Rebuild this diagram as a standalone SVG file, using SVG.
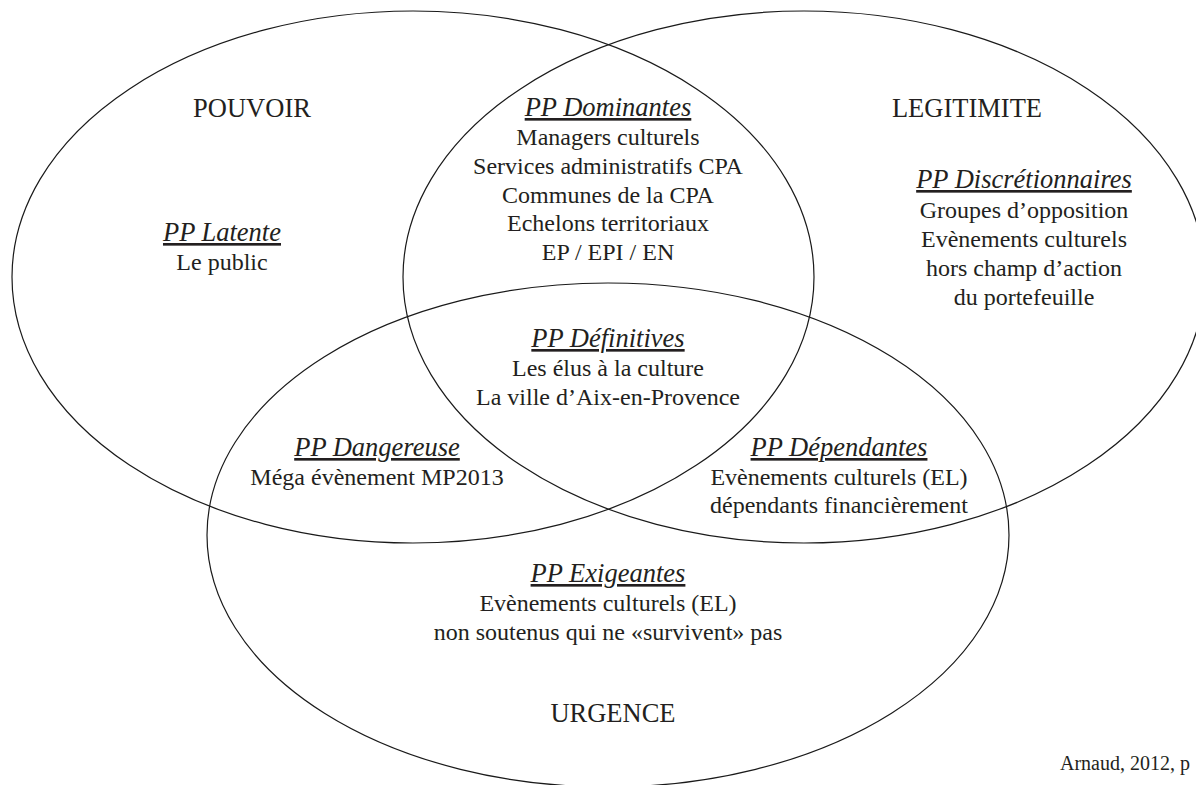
<svg xmlns="http://www.w3.org/2000/svg" width="1196" height="785" viewBox="0 0 1196 785">
<style>
.c{fill:none;stroke:#1a1a1a;stroke-width:1.2}
text{font-family:"Liberation Serif","Times New Roman",serif;fill:#231f20;text-anchor:middle}
.t{font-style:italic;font-size:26.5px;text-decoration:underline}
.b{font-size:24px}
.h{font-size:26.5px}
.s{font-size:20px;text-anchor:start}
</style>
<rect width="1196" height="785" fill="#fff"/>
<g id="circles">
<ellipse id="pouvoir-set" class="c" cx="413" cy="277" rx="401" ry="266"/>
<ellipse id="legitimite-set" class="c" cx="804" cy="277" rx="401" ry="266"/>
<ellipse id="urgence-set" class="c" cx="608" cy="535" rx="401" ry="252"/>
</g>
<g id="pouvoir"><text class="h" x="252" y="117">POUVOIR</text></g>
<g id="legitimite"><text class="h" x="967" y="117">LEGITIMITE</text></g>
<g id="urgence"><text class="h" x="613" y="722">URGENCE</text></g>
<g id="latente">
<text class="t" x="222" y="241">PP Latente</text>
<text class="b" x="222" y="270">Le public</text>
</g>
<g id="dominantes">
<text class="t" x="608" y="116">PP Dominantes</text>
<text class="b" x="608" y="145">Managers culturels</text>
<text class="b" x="608" y="174">Services administratifs CPA</text>
<text class="b" x="608" y="203">Communes de la CPA</text>
<text class="b" x="608" y="231">Echelons territoriaux</text>
<text class="b" x="608" y="260">EP / EPI / EN</text>
</g>
<g id="discretionnaires">
<text class="t" x="1024" y="188">PP Discrétionnaires</text>
<text class="b" x="1024" y="218">Groupes d’opposition</text>
<text class="b" x="1024" y="247">Evènements culturels</text>
<text class="b" x="1024" y="276">hors champ d’action</text>
<text class="b" x="1024" y="305">du portefeuille</text>
</g>
<g id="definitives">
<text class="t" x="608" y="347">PP Définitives</text>
<text class="b" x="608" y="376">Les élus à la culture</text>
<text class="b" x="608" y="405">La ville d’Aix-en-Provence</text>
</g>
<g id="dangereuse">
<text class="t" x="377" y="456">PP Dangereuse</text>
<text class="b" x="377" y="485">Méga évènement MP2013</text>
</g>
<g id="dependantes">
<text class="t" x="839" y="456">PP Dépendantes</text>
<text class="b" x="839" y="485">Evènements culturels (EL)</text>
<text class="b" x="839" y="513">dépendants financièrement</text>
</g>
<g id="exigeantes">
<text class="t" x="608" y="582">PP Exigeantes</text>
<text class="b" x="608" y="611">Evènements culturels (EL)</text>
<text class="b" x="608" y="640">non soutenus qui ne «survivent» pas</text>
</g>
<g id="source"><text class="s" x="1060" y="770">Arnaud, 2012, p</text></g>
</svg>
